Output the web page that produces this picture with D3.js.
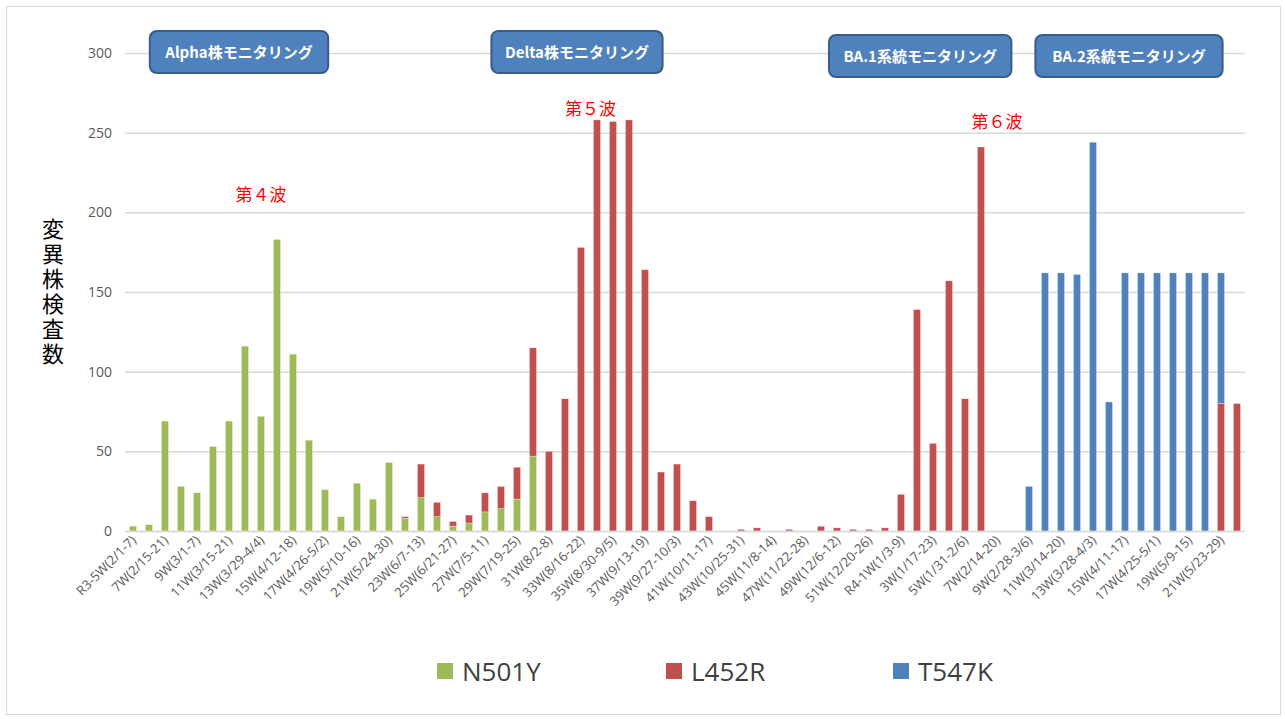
<!DOCTYPE html>
<html>
<head>
<meta charset="utf-8">
<script src="https://cdn.jsdelivr.net/npm/d3@7"></script>
<style>
  body { margin: 0; background: #fff; }
  text { font-family: "Noto Sans CJK JP", "Noto Sans", sans-serif; }
</style>
</head>
<body>
<div id="chart"></div>
<script>
// week labels (2021 week 5 .. 2022 week 22)
var weeks = [
  "R3-5W(2/1-7)", "6W(2/8-14)", "7W(2/15-21)", "8W(2/22-28)", "9W(3/1-7)", "10W(3/8-14)",
  "11W(3/15-21)", "12W(3/22-28)", "13W(3/29-4/4)", "14W(4/5-11)", "15W(4/12-18)", "16W(4/19-25)",
  "17W(4/26-5/2)", "18W(5/3-9)", "19W(5/10-16)", "20W(5/17-23)", "21W(5/24-30)", "22W(5/31-6/6)",
  "23W(6/7-13)", "24W(6/14-20)", "25W(6/21-27)", "26W(6/28-7/4)", "27W(7/5-11)", "28W(7/12-18)",
  "29W(7/19-25)", "30W(7/26-8/1)", "31W(8/2-8)", "32W(8/9-15)", "33W(8/16-22)", "34W(8/23-29)",
  "35W(8/30-9/5)", "36W(9/6-12)", "37W(9/13-19)", "38W(9/20-26)", "39W(9/27-10/3)", "40W(10/4-10)",
  "41W(10/11-17)", "42W(10/18-24)", "43W(10/25-31)", "44W(11/1-7)", "45W(11/8-14)", "46W(11/15-21)",
  "47W(11/22-28)", "48W(11/29-12/5)", "49W(12/6-12)", "50W(12/13-19)", "51W(12/20-26)", "52W(12/27-1/2)",
  "R4-1W(1/3-9)", "2W(1/10-16)", "3W(1/17-23)", "4W(1/24-30)", "5W(1/31-2/6)", "6W(2/7-13)",
  "7W(2/14-20)", "8W(2/21-27)", "9W(2/28-3/6)", "10W(3/7-13)", "11W(3/14-20)", "12W(3/21-27)",
  "13W(3/28-4/3)", "14W(4/4-10)", "15W(4/11-17)", "16W(4/18-24)", "17W(4/25-5/1)", "18W(5/2-8)",
  "19W(5/9-15)", "20W(5/16-22)", "21W(5/23-29)", "22W(5/30-6/5)"
];

// N501Y counts
var n501y = [3, 4, 69, 28, 24, 53, 69, 116, 72, 183, 111, 57, 26, 9, 30, 20, 43, 8, 21, 9, 3, 5, 12, 14, 20, 47,
  0, 0, 0, 0, 0, 0, 0, 0, 0, 0, 0, 0, 0, 0, 0, 0, 0, 0, 0, 0, 0, 0,
  0, 0, 0, 0, 0, 0, 0, 0, 0, 0, 0, 0, 0, 0, 0, 0, 0, 0, 0, 0, 0, 0];

// L452R counts
var l452r = [0, 0, 0, 0, 0, 0, 0, 0, 0, 0, 0, 0, 0, 0, 0, 0, 0, 1, 21, 9, 3, 5, 12, 14, 20, 68,
  50, 83, 178, 258, 257, 258, 164, 37, 42, 19, 9, 0, 1, 2, 0, 1, 0, 3, 2, 1, 1, 2,
  23, 139, 55, 157, 83, 241, 0, 0, 0, 0, 0, 0, 0, 0, 0, 0, 0, 0, 0, 0, 80, 80];

// T547K counts
var t547k = [0, 0, 0, 0, 0, 0, 0, 0, 0, 0, 0, 0, 0, 0, 0, 0, 0, 0, 0, 0, 0, 0, 0, 0, 0, 0,
  0, 0, 0, 0, 0, 0, 0, 0, 0, 0, 0, 0, 0, 0, 0, 0, 0, 0, 0, 0, 0, 0,
  0, 0, 0, 0, 0, 0, 0, 0, 28, 162, 162, 161, 244, 81, 162, 162, 162, 162, 162, 162, 82, 0];

var seriesNames = ["N501Y", "L452R", "T547K"];
var seriesColors = ["#9bbb59", "#c0504d", "#4f81bd"];
var yTicks = [0, 50, 100, 150, 200, 250, 300];

// monitoring boxes: label + the span of weeks (in week steps) they cover
var boxNames = ["Alpha株モニタリング", "Delta株モニタリング", "BA.1系統モニタリング", "BA.2系統モニタリング"];
var boxFrom = [1.05, 22.4, 43.5, 56.4];
var boxTo = [12.2, 33.1, 54.9, 68.1];

// wave labels
var waveNames = ["第４波", "第５波", "第６波"];
var waveWeek = [8, 28.6, 54];
var waveValue = [207, 261, 253];

var width = 1285,
    height = 719;

var svg = d3.select("#chart").append("svg")
    .attr("width", width)
    .attr("height", height);

// outer frame
svg.append("rect")
    .attr("x", 6.5).attr("y", 6.5)
    .attr("width", width - 11).attr("height", height - 11)
    .attr("fill", "#fff")
    .attr("stroke", "#d9d9d9");

var x = d3.scaleBand()
    .domain(weeks)
    .range([125, 1245])
    .paddingInner(0.56)
    .paddingOuter(0.28);

var y = d3.scaleLinear()
    .domain([0, 300])
    .range([531, 53]);

// center of a (possibly fractional) week index
function weekX(i) {
    return x(weeks[0]) + x.bandwidth() / 2 + i * x.step();
}

// gridlines
svg.selectAll(".grid")
    .data(yTicks)
    .enter().append("line")
    .attr("x1", 125).attr("x2", 1245)
    .attr("y1", function(d) { return y(d) + 0.5; })
    .attr("y2", function(d) { return y(d) + 0.5; })
    .attr("stroke", "#d9d9d9")
    .attr("stroke-width", 1.5);

// y axis labels
var yAxis = svg.append("g")
    .attr("transform", "translate(112,0)")
    .call(d3.axisLeft(y).tickValues(yTicks).tickSize(0).tickPadding(0));
yAxis.select(".domain").remove();
yAxis.selectAll("text")
    .attr("fill", "#595959")
    .style("font-size", "14px")
    .style("font-family", "'Open Sans', 'Noto Sans', sans-serif");

// stack the three series
var rows = weeks.map(function(w, i) {
    return { week: w, N501Y: n501y[i], L452R: l452r[i], T547K: t547k[i] };
});
var stacked = d3.stack().keys(seriesNames)(rows);

svg.selectAll(".series")
    .data(stacked)
    .enter().append("g")
    .attr("fill", function(d, i) { return seriesColors[i]; })
    .selectAll("rect")
    .data(function(d) { return d.filter(function(p) { return p[1] > p[0]; }); })
    .enter().append("rect")
    .attr("x", function(d) { return x(d.data.week); })
    .attr("width", x.bandwidth())
    .attr("y", function(d) { return y(d[1]); })
    .attr("height", function(d) { return y(d[0]) - y(d[1]); })
    .attr("stroke", "#fff")
    .attr("stroke-opacity", 0.5)
    .attr("stroke-width", 0.6);

// baseline
svg.append("line")
    .attr("x1", 125).attr("x2", 1245)
    .attr("y1", y(0) + 0.5).attr("y2", y(0) + 0.5)
    .attr("stroke", "#d9d9d9")
    .attr("stroke-width", 1.5);

// x labels, every other week
svg.selectAll(".xlabel")
    .data(weeks.filter(function(d, i) { return i % 2 === 0; }))
    .enter().append("text")
    .attr("transform", function(d) {
        return "translate(" + (x(d) + x.bandwidth() / 2 + 4) + ",541) rotate(-45)";
    })
    .attr("text-anchor", "end")
    .attr("fill", "#595959")
    .style("font-size", "13px")
    .style("font-family", "'Open Sans', 'Noto Sans', sans-serif")
    .text(function(d) { return d; });

// y axis title, written vertically
svg.append("text")
    .attr("x", 53)
    .attr("y", 218)
    .attr("fill", "#000")
    .style("font-size", "22px")
    .style("writing-mode", "vertical-rl")
    .style("letter-spacing", "3px")
    .text("変異株検査数");

// monitoring boxes
boxNames.forEach(function(name, i) {
    var x0 = weekX(boxFrom[i]);
    var x1 = weekX(boxTo[i]);
    var by = i < 2 ? 31 : 35;
    var g = svg.append("g");
    g.append("rect")
        .attr("x", x0).attr("y", by)
        .attr("width", x1 - x0).attr("height", 42)
        .attr("rx", 7)
        .attr("fill", "#4f81bd")
        .attr("stroke", "#385d8a")
        .attr("stroke-width", 2);
    g.append("text")
        .attr("x", (x0 + x1) / 2)
        .attr("y", by + 27)
        .attr("text-anchor", "middle")
        .attr("fill", "#fff")
        .style("font-size", "15px")
        .style("font-weight", "bold")
        .text(name);
});

// wave labels
waveNames.forEach(function(name, i) {
    svg.append("text")
        .attr("x", weekX(waveWeek[i]))
        .attr("y", y(waveValue[i]))
        .attr("text-anchor", "middle")
        .attr("fill", "#ff0000")
        .style("font-size", "17px")
        .text(name);
});

// legend
var legendX = [437, 666, 893];
var legend = svg.selectAll(".legend")
    .data(seriesNames)
    .enter().append("g")
    .attr("transform", function(d, i) { return "translate(" + legendX[i] + ",663)"; });
legend.append("rect")
    .attr("width", 16).attr("height", 16)
    .attr("fill", function(d, i) { return seriesColors[i]; });
legend.append("text")
    .attr("x", 25).attr("y", 18)
    .attr("fill", "#404040")
    .style("font-size", "26px")
    .style("font-family", "'Open Sans', 'Noto Sans', sans-serif")
    .text(function(d) { return d; });
</script>
</body>
</html>
